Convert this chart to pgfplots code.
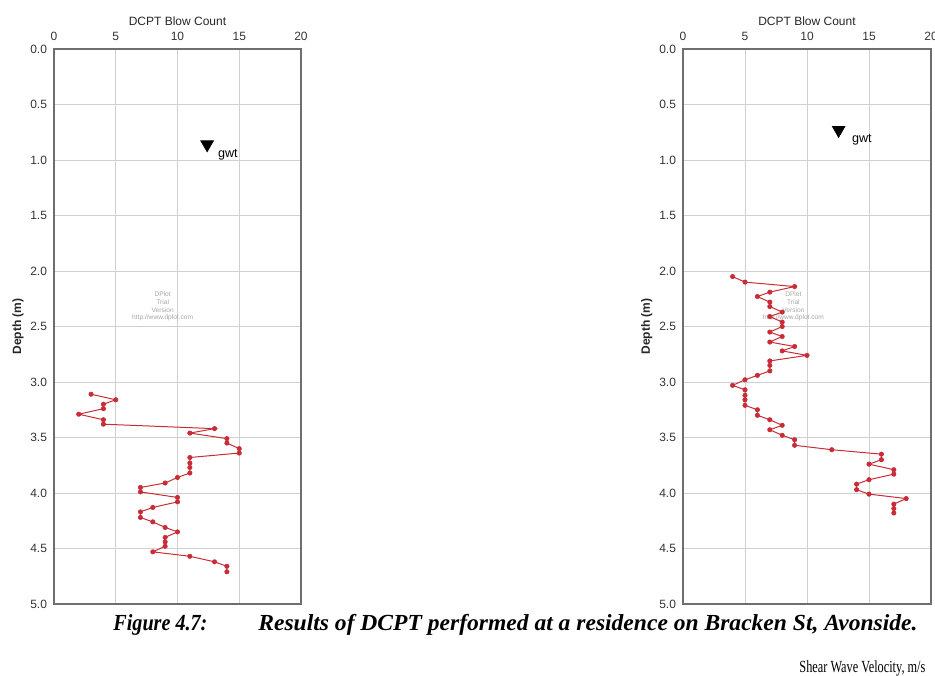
\documentclass[border=0pt]{standalone}
\usepackage{pgfplots}
\usepackage{pgfplotstable}
\pgfplotsset{compat=1.18}
\usepackage{fontspec}
\setmainfont{Liberation Serif}
\setsansfont{Liberation Sans}

\definecolor{dcpt}{RGB}{200,45,55}
\definecolor{framec}{RGB}{110,110,110}
\definecolor{gridc}{RGB}{208,208,208}

% DCPT test 1: blow count per increment vs depth (m)
\pgfplotstableread{
blows depth
3  3.11
5  3.16
4  3.20
4  3.24
2  3.29
4  3.34
4  3.38
13 3.42
11 3.46
14 3.51
14 3.55
15 3.60
15 3.64
11 3.68
11 3.73
11 3.77
11 3.82
10 3.86
9  3.91
7  3.95
7  3.99
10 4.04
10 4.08
8  4.13
7  4.17
7  4.22
8  4.26
9  4.31
10 4.35
9  4.40
9  4.44
9  4.48
8  4.53
11 4.57
13 4.62
14 4.66
14 4.71
}\testA

% DCPT test 2
\pgfplotstableread{
blows depth
4  2.05
5  2.10
9  2.14
7  2.19
6  2.23
7  2.28
7  2.32
8  2.37
7  2.41
8  2.46
8  2.50
7  2.55
8  2.59
7  2.64
9  2.68
8  2.72
10 2.76
7  2.81
7  2.85
7  2.90
6  2.94
5  2.98
4  3.03
5  3.07
5  3.12
5  3.16
5  3.21
6  3.25
6  3.30
7  3.34
8  3.39
7  3.43
8  3.48
9  3.52
9  3.57
12 3.61
16 3.65
16 3.70
15 3.74
17 3.79
17 3.83
15 3.88
14 3.92
14 3.97
15 4.01
18 4.05
17 4.10
17 4.14
17 4.18
}\testB

\tikzset{
  watermark/.style={font=\sffamily\fontsize{3.3}{3.9}\selectfont, text=black!35,
    align=center},
  gwtlabel/.style={anchor=west, inner sep=0, font=\sffamily\fontsize{6.3}{7}\selectfont},
}

\pgfplotsset{
  dcptaxis/.style={
    scale only axis, height=277.5pt,
    xmin=0, xmax=20, ymin=0, ymax=5, y dir=reverse,
    xtick={0,5,10,15,20},
    ytick={0,0.5,1,1.5,2,2.5,3,3.5,4,4.5,5},
    xticklabel pos=upper,
    grid=major, major grid style={gridc, line width=0.5pt},
    axis line style={framec, line width=0.8pt},
    major tick length=0pt,
    tick label style={font=\sffamily\fontsize{6}{7}\selectfont, text=black!80},
    /pgf/number format/assume math mode=true,
    yticklabel style={/pgf/number format/fixed, /pgf/number format/fixed zerofill,
      /pgf/number format/precision=1},
    xticklabel style={yshift=0.6pt},
    xlabel={DCPT Blow Count}, ylabel={Depth (m)},
    xlabel style={at={(axis description cs:0.5,1.0505)}, anchor=center,
      font=\sffamily\fontsize{6}{7}\selectfont, text=black!85},
    ylabel style={at={(axis description cs:-0.146,0.5)}, anchor=center,
      font=\sffamily\bfseries\fontsize{6}{7}\selectfont, text=black!85},
  },
  dcptline/.style={dcpt, line width=0.5pt, mark=*, mark size=1.1pt,
    mark options={fill=dcpt, draw=dcpt, line width=0.3pt}},
  gwtmark/.style={only marks, mark=triangle*, mark size=3.6pt,
    mark options={rotate=180, fill=black, draw=black}},
}

\begin{document}
\begin{tikzpicture}
\path[use as bounding box] (0,0) rectangle (467.5pt,-337.5pt);

\begin{axis}[dcptaxis, width=123.5pt, at={(27pt,-24.5pt)}, anchor=north west]
  \node[watermark] at (axis cs:8.8,2.32) {DPlot\\Trial\\Version\\http://www.dplot.com};
  \addplot[dcptline] table[x=blows, y=depth] {\testA};
  \addplot[gwtmark] coordinates {(12.4,0.86)};
  \node[gwtlabel] at (axis cs:13.25,0.95) {gwt};
\end{axis}

\begin{axis}[dcptaxis, width=124pt, at={(341.5pt,-24.5pt)}, anchor=north west]
  \node[watermark] at (axis cs:8.9,2.32) {DPlot\\Trial\\Version\\http://www.dplot.com};
  \addplot[dcptline] table[x=blows, y=depth] {\testB};
  \addplot[gwtmark] coordinates {(12.55,0.73)};
  \node[gwtlabel] at (axis cs:13.6,0.82) {gwt};
\end{axis}

\node[anchor=base west, inner sep=0, font=\bfseries\itshape\fontsize{11.5}{13}\selectfont]
  at (56.5pt,-315pt) {\resizebox{47pt}{\height}{Figure 4.7:}};
\node[anchor=base west, inner sep=0, font=\bfseries\itshape\fontsize{11.5}{13}\selectfont]
  at (129pt,-315pt) {\resizebox{329.5pt}{\height}{Results of DCPT performed at a residence on Bracken St, Avonside.}};
\node[anchor=base west, inner sep=0, font=\fontsize{8.5}{10}\selectfont]
  at (399.5pt,-336pt) {\resizebox{63pt}{\height}{Shear Wave Velocity, m/s}};
\end{tikzpicture}
\end{document}
